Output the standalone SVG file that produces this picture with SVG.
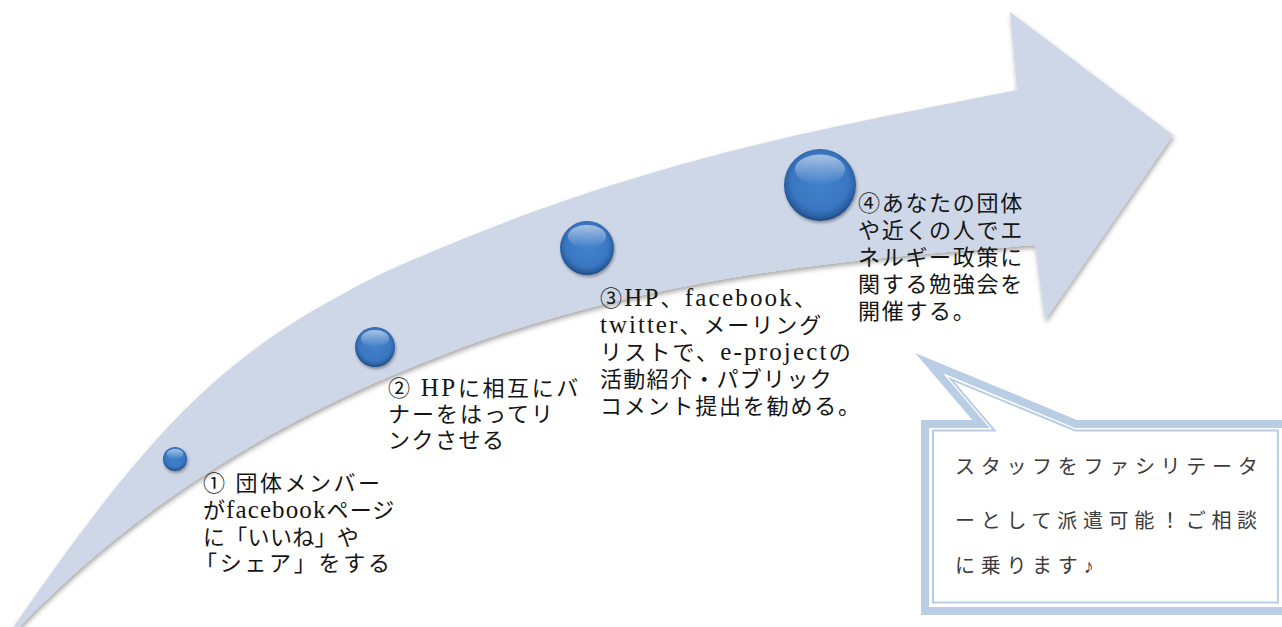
<svg xmlns="http://www.w3.org/2000/svg" xmlns:xlink="http://www.w3.org/1999/xlink" width="1282" height="627" viewBox="0 0 1282 627">
<style>
.t{font-family:"Liberation Serif","Noto Sans CJK JP",serif;font-size:22px;fill:#151515}
.c{font-family:"Liberation Serif","Noto Sans CJK JP",serif;font-size:20px;fill:#3c3c3c;letter-spacing:5.7px}
.ball{fill:url(#ball);filter:url(#bs)}
.hl{fill:url(#hl)}
.band{fill:#ffffff;stroke:#b9cde5;stroke-width:8;stroke-miterlimit:10}
.thin{fill:none;stroke:#b9cde5;stroke-width:2;stroke-miterlimit:10}
</style>
<defs>
<filter id="as" x="-5%" y="-5%" width="110%" height="115%">
<feDropShadow dx="1" dy="3" stdDeviation="2.5" flood-color="#000" flood-opacity="0.35"/>
</filter>
<filter id="bs" x="-30%" y="-30%" width="160%" height="160%">
<feDropShadow dx="1" dy="2" stdDeviation="1.5" flood-color="#000" flood-opacity="0.35"/>
</filter>
<radialGradient id="ball" cx="0.5" cy="0.45" r="0.55">
<stop offset="0" stop-color="#4282cd"/>
<stop offset="0.72" stop-color="#3a77c1"/>
<stop offset="0.9" stop-color="#2b5fa2"/>
<stop offset="1" stop-color="#1d4680"/>
</radialGradient>
<linearGradient id="hl" x1="0" y1="0" x2="0" y2="1">
<stop offset="0" stop-color="#ffffff" stop-opacity="0.55"/>
<stop offset="1" stop-color="#ffffff" stop-opacity="0"/>
</linearGradient>
</defs>
<rect width="1282" height="627" fill="#ffffff"/>
<g id="connectors">
<path id="arrow" filter="url(#as)" fill="#cdd7e7" d="M 10,632 C 163,409.5 233,348 383,273 C 633,160.5 817,130 1017,90 L 1010,12 L 1173,135 L 1045,320 L 1035,245 C 840,259 645,278 450,352 C 300,409 150,492 21,625 L 15,634 Z"/>
</g>
<g id="step1">
<circle class="ball" cx="175" cy="459" r="12"/>
<ellipse class="hl" cx="175" cy="454" rx="8.5" ry="5"/>
<text class="t" x="203" y="491" letter-spacing="2.5">① 団体メンバー</text>
<text class="t" x="203" y="518" letter-spacing="1.1">が<tspan font-size="25">facebook</tspan>ページ</text>
<text class="t" x="203" y="545" letter-spacing="0.3">に「いいね」や</text>
<text class="t" x="195" y="571" letter-spacing="2.7">「シェア」をする</text>
</g>
<g id="step2">
<circle class="ball" cx="375" cy="347" r="20"/>
<ellipse class="hl" cx="375" cy="338.5" rx="14" ry="8.5"/>
<text class="t" x="388" y="396" letter-spacing="2.6">② <tspan font-size="25">HP</tspan>に相互にバ</text>
<text class="t" x="388" y="422" letter-spacing="2">ナーをはってリ</text>
<text class="t" x="388" y="448" letter-spacing="1.5">ンクさせる</text>
</g>
<g id="step3">
<circle class="ball" cx="587" cy="248" r="27"/>
<ellipse class="hl" cx="587" cy="236.5" rx="19" ry="11.5"/>
<text class="t" x="600" y="306" letter-spacing="2.2">③<tspan font-size="25">HP</tspan>、<tspan font-size="25">facebook</tspan>、</text>
<text class="t" x="600" y="333" letter-spacing="2">
<tspan font-size="25">twitter</tspan>、メーリング</text>
<text class="t" x="600" y="360" letter-spacing="2.2">リストで、<tspan font-size="25">e-project</tspan>の</text>
<text class="t" x="600" y="387" letter-spacing="1.3">活動紹介・パブリック</text>
<text class="t" x="600" y="414" letter-spacing="1.8">コメント提出を勧める。</text>
</g>
<g id="step4">
<circle class="ball" cx="820" cy="185" r="36"/>
<ellipse class="hl" cx="820" cy="169.5" rx="25" ry="15"/>
<text class="t" x="858" y="211" letter-spacing="1.7">④あなたの団体</text>
<text class="t" x="858" y="238" letter-spacing="1.7">や近くの人でエ</text>
<text class="t" x="858" y="265" letter-spacing="1.7">ネルギー政策に</text>
<text class="t" x="858" y="292" letter-spacing="1.7">関する勉強会を</text>
<text class="t" x="858" y="319" letter-spacing="1.7">開催する。</text>
</g>
<g id="callout">
<path class="band" d="M 925,424 H 981 L 929,363 L 1076,424 H 1295 V 611 H 925 Z"/>
<path class="thin" d="M 933,430.5 H 994.6 L 951,379.3 L 1075,430.5 H 1278 V 602.5 H 933 Z"/>
<text class="c" x="955" y="474">スタッフをファシリテータ</text>
<text class="c" x="955" y="528">ーとして派遣可能！ご相談</text>
<text class="c" x="955" y="573">に乗ります♪</text>
</g>
</svg>
